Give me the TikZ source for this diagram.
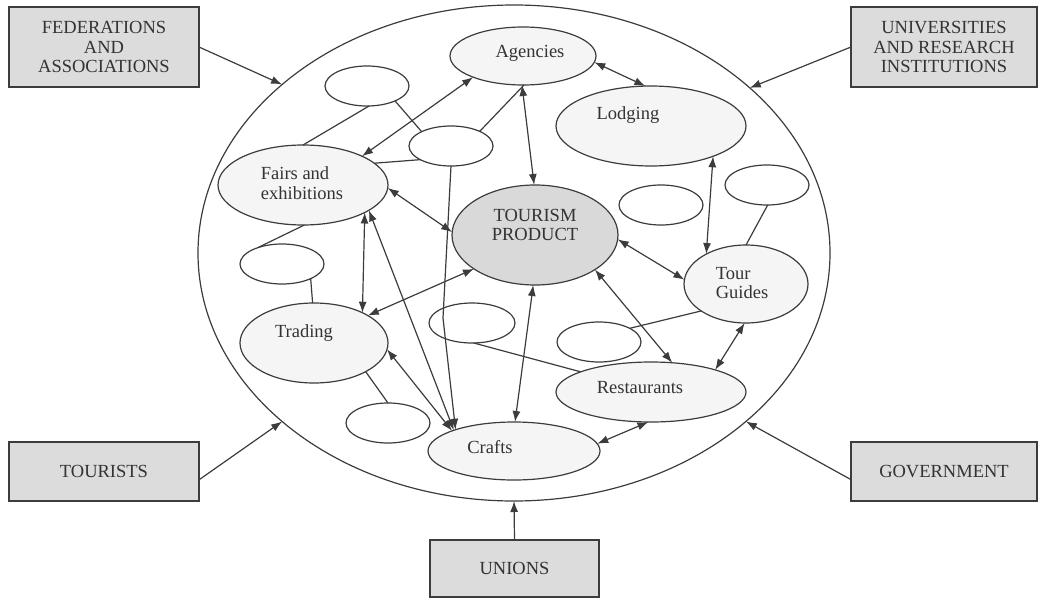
\documentclass[tikz,border=0pt]{standalone}
\usepackage{fontspec}
\setmainfont{Liberation Serif}
\usetikzlibrary{shapes.geometric,arrows.meta}
\definecolor{boxgray}{RGB}{220,220,220}
\definecolor{ellfill}{RGB}{245,245,245}
\definecolor{tpfill}{RGB}{217,217,217}
\definecolor{linecol}{RGB}{60,60,60}
\tikzset{
  base/.style={draw=linecol, line width=1.2pt},
  boxn/.style={base, fill=boxgray, inner sep=0pt, outer sep=0pt, align=center,
    font=\fontsize{18.5}{19.5}\selectfont, text=black!80},
  ell/.style={base, ellipse, inner sep=0pt, outer sep=0pt},
  named/.style={ell, fill=ellfill},
  empty/.style={ell, fill=white, minimum width=84pt, minimum height=40pt},
  lab/.style={inner sep=0pt, align=left, font=\fontsize{18.5}{19.5}\selectfont, text=black!80},
  conn/.style={base},
  dbl/.style={base, {Latex[length=11pt,width=8pt]}-{Latex[length=11pt,width=8pt]}},
  sgl/.style={base, -{Latex[length=11pt,width=8pt]}},
}
\begin{document}
\begin{tikzpicture}[x=1pt,y=-1pt]
\useasboundingbox (0,0) rectangle (1038,599);
% outer ellipse
\node[ell, minimum width=632pt, minimum height=496pt] (big) at (514,253) {};
% boxes
\node[boxn, minimum width=190pt, minimum height=80pt] (fed) at (104,47) {FEDERATIONS\\AND\\ASSOCIATIONS};
\node[boxn, minimum width=186pt, minimum height=80pt] (uni) at (944,47) {UNIVERSITIES\\AND RESEARCH\\INSTITUTIONS};
\node[boxn, minimum width=190pt, minimum height=59pt] (tou) at (104,471.5) {TOURISTS};
\node[boxn, minimum width=186pt, minimum height=59pt] (gov) at (944,471.5) {GOVERNMENT};
\node[boxn, minimum width=169pt, minimum height=57pt] (uns) at (514.5,568.5) {UNIONS};
% named ellipses
\node[named, minimum width=146pt, minimum height=58pt] (ag) at (523,56) {};
\node[named, minimum width=190pt, minimum height=80pt] (lo) at (651,126) {};
\node[named, minimum width=170pt, minimum height=80pt] (fa) at (303,185) {};
\node[ell, fill=tpfill, minimum width=166pt, minimum height=100pt] (tp) at (535,235) {};
\node[named, minimum width=124pt, minimum height=78pt] (tg) at (746,284) {};
\node[named, minimum width=148pt, minimum height=80pt] (tr) at (314,343) {};
\node[named, minimum width=190pt, minimum height=60pt] (re) at (651,392) {};
\node[named, minimum width=172pt, minimum height=58pt] (cr) at (514,451) {};
% labels
\node[lab] (tag) at (530,53) {Agencies};
\node[lab] (tlo) at (628,115) {Lodging};
\node[lab] (tfa) at (302,183) {Fairs and\\exhibitions};
\node[lab, align=center] (ttp) at (535,225) {TOURISM\\PRODUCT};
\node[lab] (ttg) at (742,283) {Tour\\Guides};
\node[lab] (ttr) at (304,333) {Trading};
\node[lab] (tre) at (640,388) {Restaurants};
\node[lab] (tcr) at (490,447) {Crafts};
% empty ellipses
\node[empty] (e1) at (367,86) {};
\node[empty] (e2) at (451,146) {};
\node[empty] (e3) at (282,264) {};
\node[empty] (e4) at (661,205) {};
\node[empty] (e5) at (767,185) {};
\node[empty, minimum width=86pt] (e6) at (472,323) {};
\node[empty] (e7) at (599,342) {};
\node[empty] (e8) at (388,423) {};
\coordinate (bend) at (443,318);
% outer arrows
\draw[sgl] (fed.east) -- (big.144);
\draw[sgl] (uni.west) -- (big.35.5);
\draw[sgl] (tou.355) -- (big.216);
\draw[sgl] (gov.185) -- (big.324);
\draw[sgl] (uns.north) -- (big.south);
% plain lines
\draw[conn] (e1.276) -- (fa.90);
\draw[conn] (e1.332) -- (e2.154);
\draw[conn] (e2.27) -- (ag.272);
\draw[conn] (fa.17) -- (e2.204);
\draw[conn] (fa.272) -- (e3.146);
\draw[conn] (e3.333) -- (tr.92);
\draw[conn] (tr.331) -- (e8.90);
\draw[conn] (e6.275) -- (re.164);
\draw[conn] (e7.24) -- (tg.211);
\draw[conn] (e5.272) -- (tg.90);
\draw[sgl] (e2.270) -- (bend) -- (cr.160);
% double arrows
\draw[dbl] (ag.203) -- (fa.26);
\draw[dbl] (ag.355) -- (lo.98);
\draw[dbl] (ag.268) -- (tp.91);
\draw[dbl] (lo.334) -- (tg.143);
\draw[dbl] (fa.358) -- (tp.178);
\draw[dbl] (tp.357) -- (tg.176);
\draw[dbl] (fa.336) -- (tr.32);
\draw[dbl] (fa.339) -- (cr.161);
\draw[dbl] (tp.209) -- (tr.27);
\draw[dbl] (tr.355) -- (cr.162);
\draw[dbl] (tp.268) -- (cr.88);
\draw[dbl] (tp.330) -- (re.54);
\draw[dbl] (tg.268) -- (re.19);
\draw[dbl] (cr.5) -- (re.265);
\end{tikzpicture}
\end{document}
